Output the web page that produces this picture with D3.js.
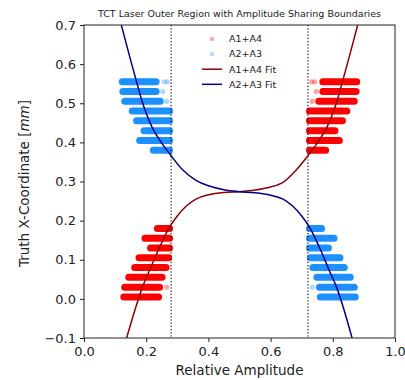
<!DOCTYPE html>
<html>
<head>
<meta charset="utf-8">
<script src="https://cdn.jsdelivr.net/npm/d3@7"></script>
<style>
  body { margin: 0; background: #fff; }
  text { font-family: "DejaVu Sans", sans-serif; fill: #222; }
</style>
</head>
<body>
<div id="chart"></div>
<script>
// row heights of the amplitude sharing bands
var upperRows = [0.555, 0.53, 0.505, 0.48, 0.455, 0.43, 0.405, 0.38];
var lowerRows = [0.18, 0.155, 0.13, 0.105, 0.08, 0.055, 0.03, 0.005];

// [lo, hi] relative amplitude span of each row
var a23Upper = [[0.123, 0.232], [0.125, 0.232], [0.131, 0.245], [0.155, 0.275],
                [0.169, 0.275], [0.193, 0.275], [0.179, 0.275], [0.223, 0.275]];
var a14Upper = [[0.768, 0.877], [0.768, 0.875], [0.755, 0.869], [0.725, 0.845],
                [0.725, 0.831], [0.725, 0.807], [0.725, 0.821], [0.725, 0.777]];
var a14Lower = [[0.236, 0.275], [0.196, 0.275], [0.214, 0.275], [0.177, 0.272],
                [0.163, 0.264], [0.144, 0.251], [0.131, 0.243], [0.128, 0.240]];
var a23Lower = [[0.725, 0.764], [0.725, 0.804], [0.725, 0.786], [0.728, 0.823],
                [0.736, 0.837], [0.749, 0.856], [0.757, 0.869], [0.760, 0.872]];

// a few loose points next to the bands
var a23Stray = [[0.258, 0.555], [0.268, 0.555], [0.253, 0.53], [0.266, 0.505], [0.734, 0.03]];
var a14Stray = [[0.742, 0.555], [0.732, 0.555], [0.747, 0.53], [0.734, 0.505], [0.266, 0.03]];

// fit curves
var a14FitX = [0.137, 0.165, 0.188, 0.21, 0.242, 0.274, 0.30, 0.33, 0.36, 0.40, 0.45, 0.50,
               0.55, 0.60, 0.64, 0.683, 0.72, 0.75, 0.78, 0.81, 0.83, 0.855, 0.88];
var a14FitY = [-0.100, -0.025, 0.030, 0.072, 0.130, 0.182, 0.212, 0.238, 0.255, 0.266, 0.272, 0.274,
               0.278, 0.286, 0.298, 0.330, 0.366, 0.398, 0.437, 0.497, 0.552, 0.625, 0.700];
var a23FitX = [0.120, 0.145, 0.170, 0.190, 0.220, 0.250, 0.280, 0.317, 0.360, 0.400, 0.450, 0.500,
               0.55, 0.60, 0.64, 0.67, 0.70, 0.726, 0.758, 0.79, 0.812, 0.835, 0.862];
var a23FitY = [0.700, 0.625, 0.552, 0.497, 0.437, 0.398, 0.366, 0.330, 0.303, 0.289, 0.279, 0.274,
               0.271, 0.265, 0.255, 0.238, 0.212, 0.182, 0.130, 0.070, 0.030, -0.025, -0.100];

var boundaries = [0.28, 0.72];
var xTicks = [0, 0.2, 0.4, 0.6, 0.8, 1.0];
var yTicks = [-0.1, 0, 0.1, 0.2, 0.3, 0.4, 0.5, 0.6, 0.7];

var red = "#ff0000", blue = "#1e90ff", darkRed = "#8b0000", navy = "#00008b";

var margin = {top: 25, right: 10, bottom: 42, left: 84},
    width = 405 - margin.left - margin.right,
    height = 380 - margin.top - margin.bottom;

var x = d3.scaleLinear().domain([0, 1]).range([0, width]);
var y = d3.scaleLinear().domain([-0.1, 0.7]).range([height, 0]);

var svg = d3.select("#chart")
  .append("svg")
    .attr("width", 405)
    .attr("height", 380);

var defs = svg.append("defs");
defs.append("clipPath").attr("id", "clip")
  .append("rect").attr("width", width).attr("height", height);
defs.append("filter").attr("id", "soft")
  .append("feGaussianBlur").attr("stdDeviation", 0.6);

var g = svg.append("g")
    .attr("transform", `translate(${margin.left},${margin.top})`);

var plot = g.append("g").attr("clip-path", "url(#clip)");

function drawRows(spans, rows, color) {
  plot.append("g")
      .attr("filter", "url(#soft)")
    .selectAll("line")
    .data(spans)
    .enter().append("line")
      .attr("x1", function(d) { return x(d[0]); })
      .attr("x2", function(d) { return x(d[1]); })
      .attr("y1", function(d, i) { return y(rows[i]); })
      .attr("y2", function(d, i) { return y(rows[i]); })
      .attr("stroke", color)
      .attr("stroke-width", 7)
      .attr("stroke-linecap", "round");
}

function drawStray(pts, color) {
  plot.append("g")
    .selectAll("circle")
    .data(pts)
    .enter().append("circle")
      .attr("cx", function(d) { return x(d[0]); })
      .attr("cy", function(d) { return y(d[1]); })
      .attr("r", 2.6)
      .attr("fill", color)
      .attr("opacity", 0.35);
}

drawRows(a23Upper, upperRows, blue);
drawRows(a14Upper, upperRows, red);
drawRows(a14Lower, lowerRows, red);
drawRows(a23Lower, lowerRows, blue);
drawStray(a23Stray, blue);
drawStray(a14Stray, red);

// boundaries
plot.selectAll(".bound")
  .data(boundaries)
  .enter().append("line")
    .attr("class", "bound")
    .attr("x1", function(d) { return x(d); })
    .attr("x2", function(d) { return x(d); })
    .attr("y1", 0)
    .attr("y2", height)
    .attr("stroke", "#111")
    .attr("stroke-width", 1.2)
    .attr("stroke-dasharray", "1.2,2");

var line = d3.line()
    .x(function(d) { return x(d[0]); })
    .y(function(d) { return y(d[1]); })
    .curve(d3.curveCatmullRom.alpha(0.5));

plot.append("path")
    .datum(d3.zip(a14FitX, a14FitY))
    .attr("d", line)
    .attr("fill", "none")
    .attr("stroke", darkRed)
    .attr("stroke-width", 1.5);

plot.append("path")
    .datum(d3.zip(a23FitX, a23FitY))
    .attr("d", line)
    .attr("fill", "none")
    .attr("stroke", navy)
    .attr("stroke-width", 1.5);

// axes
var xAxis = g.append("g")
    .attr("transform", "translate(0," + height + ")")
    .call(d3.axisBottom(x).tickValues(xTicks).tickFormat(d3.format(".1f")).tickSizeOuter(0).tickSize(4).tickPadding(5));
var yAxis = g.append("g")
    .call(d3.axisLeft(y).tickValues(yTicks).tickFormat(d3.format(".1f")).tickSizeOuter(0).tickSize(4).tickPadding(4));

[xAxis, yAxis].forEach(function(a) {
  a.selectAll("text").style("font-size", "13px").attr("fill", "#222");
  a.selectAll("line").attr("stroke", "#222");
  a.select(".domain").remove();
});

// frame
g.append("rect")
    .attr("width", width)
    .attr("height", height)
    .attr("fill", "none")
    .attr("stroke", "#222")
    .attr("stroke-width", 1);

g.append("text")
    .attr("x", width / 2)
    .attr("y", height + 37)
    .attr("text-anchor", "middle")
    .style("font-size", "13.5px")
    .text("Relative Amplitude");

var ylab = g.append("text")
    .attr("transform", "rotate(-90)")
    .attr("x", -(height / 2 + 2))
    .attr("y", -55)
    .attr("text-anchor", "middle")
    .style("font-size", "13.5px");
ylab.append("tspan").text("Truth X-Coordinate [");
ylab.append("tspan").attr("font-style", "italic").text("mm");
ylab.append("tspan").text("]");

g.append("text")
    .attr("x", width / 2)
    .attr("y", -8)
    .attr("text-anchor", "middle")
    .style("font-size", "9.5px")
    .text("TCT Laser Outer Region with Amplitude Sharing Boundaries");

// legend
var legendItems = [
  {label: "A1+A4", color: red, kind: "dot"},
  {label: "A2+A3", color: blue, kind: "dot"},
  {label: "A1+A4 Fit", color: darkRed, kind: "line"},
  {label: "A2+A3 Fit", color: navy, kind: "line"}
];

var legend = g.append("g")
    .attr("transform", "translate(118,14)")
  .selectAll("g")
  .data(legendItems)
  .enter().append("g")
    .attr("transform", function(d, i) { return "translate(0," + i * 15.1 + ")"; });

legend.filter(function(d) { return d.kind === "dot"; })
  .append("circle")
    .attr("cx", 10)
    .attr("cy", 0)
    .attr("r", 2.2)
    .attr("fill", function(d) { return d.color; })
    .attr("opacity", 0.35);

legend.filter(function(d) { return d.kind === "line"; })
  .append("line")
    .attr("x1", 0)
    .attr("x2", 20)
    .attr("stroke", function(d) { return d.color; })
    .attr("stroke-width", 1.5);

legend.append("text")
    .attr("x", 27)
    .attr("dy", "0.35em")
    .style("font-size", "9.5px")
    .text(function(d) { return d.label; });
</script>
</body>
</html>
